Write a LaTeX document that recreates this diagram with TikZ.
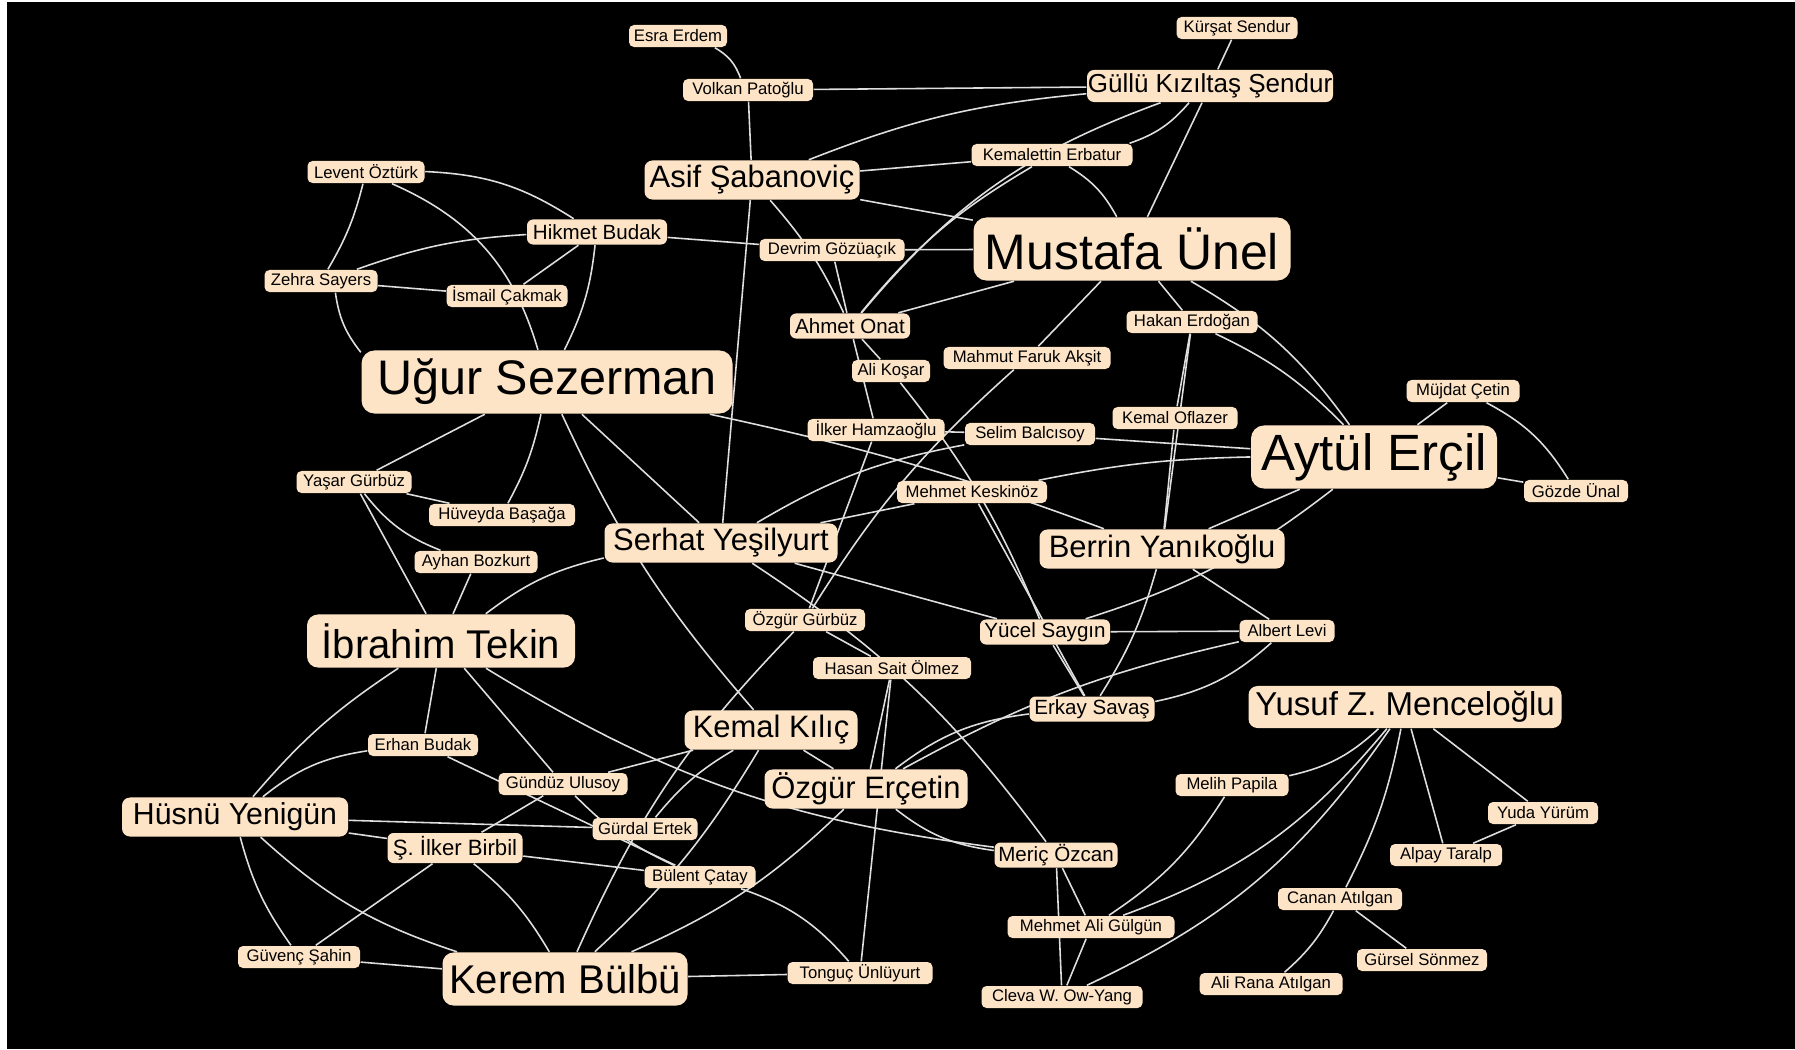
\documentclass[tikz,border=0pt]{standalone}
\usepackage{fontspec}
\setmainfont{Liberation Sans}
\usepackage{xcolor}
\usetikzlibrary{backgrounds}
\definecolor{peach}{RGB}{253,228,198}
\definecolor{wire}{RGB}{222,222,222}

\begin{document}
\begin{tikzpicture}[x=0.01cm,y=-0.01cm]
\tikzset{bl/.style={bend left=#1},br/.style={bend right=#1},bw/.style={minimum width=#1*0.01cm}}
\tikzstyle{box} =[fill=peach,text=black,inner sep=0pt]
\tikzstyle{sm} =[box,font=\fontsize{4.75pt}{5pt}\selectfont,minimum height=0.22cm,rounded corners=0.05cm]
\tikzstyle{ms} =[box,font=\fontsize{5.85pt}{6pt}\selectfont,minimum height=0.25cm,rounded corners=0.06cm]
\tikzstyle{md} =[box,font=\fontsize{8.8pt}{9pt}\selectfont,minimum height=0.39cm,rounded corners=0.08cm]
\tikzstyle{lg} =[box,font=\fontsize{11.4pt}{12pt}\selectfont,minimum height=0.53cm,rounded corners=0.11cm]
\tikzstyle{xl} =[box,font=\fontsize{14.2pt}{15pt}\selectfont,minimum height=0.63cm,rounded corners=0.13cm]
\tikzstyle{edge} =[draw=wire,line width=0.45pt]

\useasboundingbox (0,0) rectangle (1795,1049);
\begin{pgfonlayer}{background}
\fill[white] (0,0) rectangle (1795,1049);
\fill[black] (7,2) rectangle (1795,1049);
\end{pgfonlayer}

\node[sm,bw=98] (ee) at (678,36) {Esra Erdem};
\node[sm,bw=130] (vp) at (748,90) {Volkan Patoğlu};
\node[md,bw=215] (as) at (752,180) {Asif Şabanoviç};
\node[ms,bw=140] (hb) at (597,232) {Hikmet Budak};
\node[sm,bw=145] (dg) at (832,250) {Devrim Gözüaçık};
\node[sm,bw=121] (ic) at (507,296) {İsmail Çakmak};
\node[ms,bw=120] (ao) at (850,326) {Ahmet Onat};
\node[sm,bw=117] (lo) at (366,172) {Levent Öztürk};
\node[sm,bw=113] (zs) at (321,281) {Zehra Sayers};
\node[xl,bw=371,font=\fontsize{13.8pt}{14pt}\selectfont] (us) at (547,382) {Uğur Sezerman};
\node[sm,bw=121] (ks) at (1237,28) {Kürşat Sendur};
\node[box,bw=246,minimum height=0.32cm,rounded corners=0.07cm,font=\fontsize{7.4pt}{8pt}\selectfont] (gk) at (1210,86) {Güllü Kızıltaş Şendur};
\node[sm,bw=161] (ke) at (1052,155) {Kemalettin Erbatur};
\node[xl,bw=317] (mu) at (1132,249) {Mustafa Ünel};
\node[sm,bw=131] (he) at (1192,322) {Hakan Erdoğan};
\node[sm,bw=167] (mf) at (1027,358) {Mahmut Faruk Akşit};
\node[sm,bw=78] (ak) at (891,371) {Ali Koşar};
\node[sm,bw=137] (ih) at (876,430) {İlker Hamzaoğlu};
\node[sm,bw=130] (sb) at (1030,434) {Selim Balcısoy};
\node[sm,bw=125] (ko) at (1175,418) {Kemal Oflazer};
\node[sm,bw=150] (mk) at (972,492) {Mehmet Keskinöz};
\node[xl,bw=246,font=\fontsize{14.5pt}{15pt}\selectfont] (ae) at (1374,457) {Aytül Erçil};
\node[sm,bw=113] (mc) at (1463,391) {Müjdat Çetin};
\node[sm,bw=104] (gu) at (1576,491) {Gözde Ünal};
\node[sm,bw=115] (yg) at (354,482) {Yaşar Gürbüz};
\node[sm,bw=146] (hba) at (502,515) {Hüveyda Başağa};
\node[sm,bw=123] (ab) at (476,562) {Ayhan Bozkurt};
\node[md,bw=233] (sy) at (721,543) {Serhat Yeşilyurt};
\node[lg,bw=268] (it) at (441,641) {İbrahim Tekin};
\node[md,bw=245] (by) at (1162,549) {Berrin Yanıkoğlu};
\node[sm,bw=120] (og) at (805,620) {Özgür Gürbüz};
\node[ms,bw=130] (ys) at (1045,632) {Yücel Saygın};
\node[sm,bw=95] (al) at (1287,631) {Albert Levi};
\node[sm,bw=158] (hs) at (892,668) {Hasan Sait Ölmez};
\node[ms,bw=125] (es) at (1092,709) {Erkay Savaş};
\node[box,bw=313,minimum height=0.42cm,rounded corners=0.09cm,font=\fontsize{9.4pt}{10pt}\selectfont] (ym) at (1405,707) {Yusuf Z. Menceloğlu};
\node[md,bw=173] (kk) at (771,730) {Kemal Kılıç};
\node[md,bw=203] (oe) at (866,789) {Özgür Erçetin};
\node[sm,bw=110] (eb) at (423,745) {Erhan Budak};
\node[sm,bw=129] (gul) at (563,784) {Gündüz Ulusoy};
\node[md,bw=226,font=\fontsize{8.6pt}{9pt}\selectfont] (hy) at (235,817) {Hüsnü Yenigün};
\node[sm,bw=105] (ge) at (645,829) {Gürdal Ertek};
\node[ms,bw=135,minimum height=0.30cm,font=\fontsize{6.3pt}{7pt}\selectfont] (sib) at (455,848) {Ş. İlker Birbil};
\node[sm,bw=111] (bc) at (700,877) {Bülent Çatay};
\node[ms,bw=123] (mo) at (1056,855) {Meriç Özcan};
\node[sm,bw=113] (mp) at (1232,785) {Melih Papila};
\node[sm,bw=110] (yy) at (1543,813) {Yuda Yürüm};
\node[sm,bw=112] (at) at (1446,855) {Alpay Taralp};
\node[sm,bw=124] (ca) at (1340,899) {Canan Atılgan};
\node[sm,bw=167] (mag) at (1091,927) {Mehmet Ali Gülgün};
\node[sm,bw=130] (gs) at (1422,960) {Gürsel Sönmez};
\node[sm,bw=122] (gsa) at (299,957) {Güvenç Şahin};
\node[lg,bw=245] (kb) at (565,979) {Kerem Bülbü};
\node[sm,bw=145] (tu) at (860,973) {Tonguç Ünlüyurt};
\node[sm,bw=143] (ara) at (1271,984) {Ali Rana Atılgan};
\node[sm,bw=161] (cw) at (1062,997) {Cleva W. Ow-Yang};

\begin{pgfonlayer}{background}
\draw[edge] (ee) to[bl=20] (vp);
\draw[edge] (vp) -- (gk);
\draw[edge] (vp) -- (as);
\draw[edge] (as) to[bl=8] (gk);
\draw[edge] (as) -- (ke);
\draw[edge] (as) -- (mu);
\draw[edge] (dg) -- (mu);
\draw[edge] (hb) -- (dg);
\draw[edge] (as) to[bl=8] (ao);
\draw[edge] (dg) -- (ao);
\draw[edge] (lo) to[bl=15] (hb);
\draw[edge] (lo) to[bl=8] (zs);
\draw[edge] (lo) to[bl=25] (us);
\draw[edge] (zs) to[bl=8] (hb);
\draw[edge] (zs) -- (ic);
\draw[edge] (zs) to[br=15] (us);
\draw[edge] (hb) -- (ic);
\draw[edge] (hb) to[bl=10] (us);
\draw[edge] (us) -- (yg);
\draw[edge] (us) to[bl=8] (hba);
\draw[edge] (us) to[br=8] (kk);
\draw[edge] (us) -- (sy);
\draw[edge] (us) to[bl=4] (by);
\draw[edge] (yg) -- (hba);
\draw[edge] (yg) to[br=15] (ab);
\draw[edge] (yg) -- (it);
\draw[edge] (ab) -- (it);
\draw[edge] (sy) to[br=12] (it);
\draw[edge] (it) to[br=8] (hy);
\draw[edge] (it) -- (eb);
\draw[edge] (it) -- (gul);
\draw[edge] (it) to[br=12] (mo);
\draw[edge] (hy) to[bl=15] (eb);
\draw[edge] (hy) -- (sib);
\draw[edge] (hy) -- (ge);
\draw[edge] (hy) to[br=12] (kb);
\draw[edge] (hy) to[br=10] (gsa);
\draw[edge] (gsa) -- (sib);
\draw[edge] (gsa) -- (kb);
\draw[edge] (sib) to[bl=10] (kb);
\draw[edge] (sib) -- (bc);
\draw[edge] (eb) -- (bc);
\draw[edge] (gul) to[br=10] (bc);
\draw[edge] (gul) -- (sib);
\draw[edge] (gul) -- (kk);
\draw[edge] (ge) to[bl=10] (kk);
\draw[edge] (kk) to[bl=8] (kb);
\draw[edge] (og) to[br=10] (kb);
\draw[edge] (oe) to[bl=10] (kb);
\draw[edge] (kb) -- (tu);
\draw[edge] (bc) to[bl=15] (tu);
\draw[edge] (hs) -- (tu);
\draw[edge] (oe) to[br=15] (mo);
\draw[edge] (oe) to[bl=15] (es);
\draw[edge] (oe) to[bl=8] (al);
\draw[edge] (es) to[br=15] (al);
\draw[edge] (by) to[bl=8] (es);
\draw[edge] (ys) -- (es);
\draw[edge] (mk) -- (es);
\draw[edge] (ak) to[bl=8] (ys);
\draw[edge] (ao) -- (ak);
\draw[edge] (mf) to[br=8] (og);
\draw[edge] (mf) -- (mu);
\draw[edge] (ih) -- (sb);
\draw[edge] (sb) -- (ae);
\draw[edge] (mk) to[bl=5] (ae);
\draw[edge] (ao) -- (ih);
\draw[edge] (ih) -- (og);
\draw[edge] (he) -- (by);
\draw[edge] (he) -- (ko);
\draw[edge] (ko) -- (by);
\draw[edge] (he) to[bl=10] (ae);
\draw[edge] (mu) -- (he);
\draw[edge] (mu) to[bl=12] (ae);
\draw[edge] (ae) -- (mc);
\draw[edge] (mc) to[bl=15] (gu);
\draw[edge] (ae) -- (gu);
\draw[edge] (ae) -- (by);
\draw[edge] (ys) to[br=10] (ae);
\draw[edge] (by) -- (al);
\draw[edge] (ys) -- (al);
\draw[edge] (ke) to[br=15] (gk);
\draw[edge] (gk) -- (ks);
\draw[edge] (gk) -- (mu);
\draw[edge] (ke) to[bl=15] (mu);
\draw[edge] (gk) to[br=15] (ao);
\draw[edge] (ke) to[br=10] (ao);
\draw[edge] (ao) -- (mu);
\draw[edge] (as) -- (sy);
\draw[edge] (sy) to[bl=10] (sb);
\draw[edge] (sy) -- (mk);
\draw[edge] (sy) -- (ys);
\draw[edge] (sy) to[bl=10] (mo);
\draw[edge] (og) -- (hs);
\draw[edge] (hs) -- (oe);
\draw[edge] (kk) -- (oe);
\draw[edge] (mo) -- (mag);
\draw[edge] (mo) -- (cw);
\draw[edge] (mag) -- (cw);
\draw[edge] (mag) to[br=12] (mp);
\draw[edge] (mag) to[br=15] (ym);
\draw[edge] (cw) to[br=15] (ym);
\draw[edge] (mp) to[br=15] (ym);
\draw[edge] (ym) to[bl=8] (ca);
\draw[edge] (ym) -- (at);
\draw[edge] (ym) -- (yy);
\draw[edge] (ca) to[bl=10] (ara);
\draw[edge] (ca) -- (gs);
\draw[edge] (yy) -- (at);
\end{pgfonlayer}
\end{tikzpicture}
\end{document}
